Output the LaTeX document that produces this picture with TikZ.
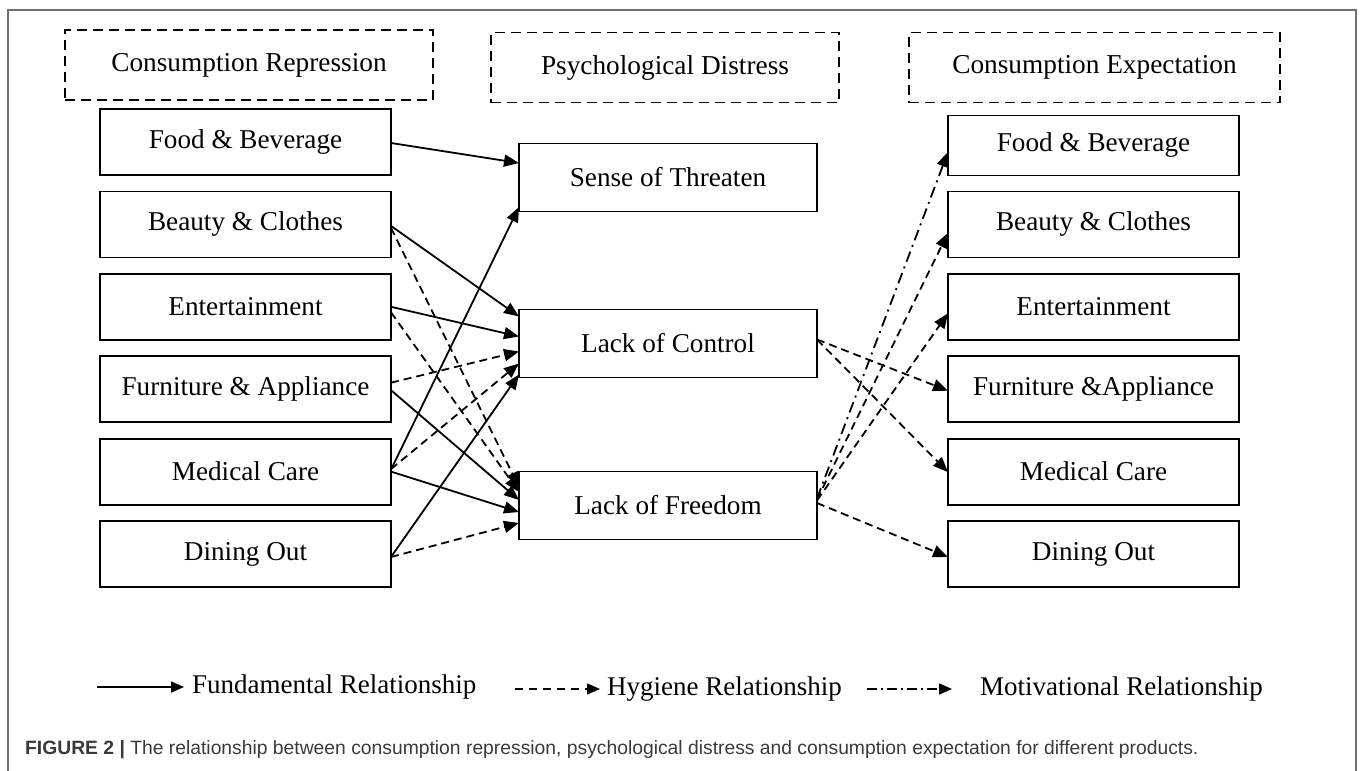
\documentclass[tikz,border=0pt]{standalone}
\usepackage{fontspec}
\setmainfont{Liberation Serif}
\newfontfamily\capfont{Liberation Sans}
\usetikzlibrary{positioning,arrows.meta}
\definecolor{capgray}{HTML}{3A3A3A}
\definecolor{framegray}{HTML}{707070}

\begin{document}
\begin{tikzpicture}[x=1pt, y=-1pt,
  box/.style={draw, line width=1.8pt, minimum width=291pt, minimum height=66pt, inner sep=0pt, outer sep=0pt, font=\fontsize{27.2}{31}\selectfont},
  midbox/.style={box, minimum width=298pt, minimum height=68pt},
  head/.style={draw, line width=1.8pt, dash pattern=on 10pt off 6pt, minimum height=70pt, inner sep=0pt, outer sep=0pt, font=\fontsize{27.3}{31}\selectfont},
  arr/.style={-{Triangle[length=15pt,width=12pt]}, line width=1.8pt},
  hyg/.style={arr, dash pattern=on 8pt off 5pt},
  mot/.style={arr, dash pattern=on 11pt off 5pt on 2pt off 5pt},
  legarr/.style={-{Triangle[length=13pt,width=11pt]}, line width=1.6pt},
  lab/.style={font=\fontsize{27}{31}\selectfont, inner sep=0pt, anchor=west}]
\useasboundingbox (0,0) rectangle (1360,771);
\draw[framegray, line width=1.5pt] (8,771) -- (8,10) -- (1356,10) -- (1356,771);

\node[head, minimum width=368pt] (hRep) at (249,65) {Consumption Repression};
\node[head, minimum width=348pt] (hDis) at (665,67.5) {Psychological Distress};
\node[head, minimum width=371pt] (hExp) at (1094.5,67.5) {Consumption Expectation};

\node[box] (lFood) at (245.5,142) {Food \& Beverage};
\node[box, below=16.4pt of lFood] (lBeauty) {Beauty \& Clothes};
\node[box, below=16.4pt of lBeauty] (lEnt) {Entertainment};
\node[box, below=16.4pt of lEnt] (lFurn) {Furniture \& Appliance};
\node[box, below=16.4pt of lFurn] (lMed) {Medical Care};
\node[box, below=16.4pt of lMed] (lDine) {Dining Out};

\node[midbox] (tSense) at (668,177.5) {Sense of Threaten};
\node[midbox, below=98pt of tSense] (tCtrl) {Lack of Control};
\node[midbox, below=94pt of tCtrl] (tFree) {Lack of Freedom};

\node[box, right=557pt of lBeauty] (rBeauty) {Beauty \& Clothes};
\node[box, above=16pt of rBeauty, minimum height=60pt] (rFood) {Food \& Beverage};
\node[box, right=557pt of lEnt] (rEnt) {Entertainment};
\node[box, right=557pt of lFurn] (rFurn) {Furniture \&Appliance};
\node[box, right=557pt of lMed] (rMed) {Medical Care};
\node[box, right=557pt of lDine] (rDine) {Dining Out};

\draw[arr] ([yshift=-1pt]lFood.east) -- ([yshift=14.5pt]tSense.west);
\draw[arr] ([yshift=-1.5pt]lBeauty.east) -- ([yshift=27pt]tCtrl.west);
\draw[arr] (lEnt.east) -- ([yshift=7pt]tCtrl.west);
\draw[arr] ([yshift=-1pt]lFurn.east) -- ([yshift=5.5pt]tFree.west);
\draw[arr] ([yshift=2pt]lMed.east) -- ([yshift=-29.5pt]tSense.west);
\draw[arr] (lMed.east) -- ([yshift=-6.5pt]tFree.west);
\draw[arr] ([yshift=-3pt]lDine.east) -- ([yshift=-31pt]tCtrl.west);
\draw[hyg] ([yshift=-3.5pt]lBeauty.east) -- ([yshift=18.5pt]tFree.west);
\draw[hyg] ([yshift=-5.5pt]lEnt.east) -- ([yshift=13.5pt]tFree.west);
\draw[hyg] ([yshift=6.5pt]lFurn.east) -- ([yshift=-8pt]tCtrl.west);
\draw[hyg] ([yshift=2.5pt]lMed.east) -- ([yshift=-20pt]tCtrl.west);
\draw[hyg] ([yshift=-3pt]lDine.east) -- ([yshift=-17.5pt]tFree.west);

\draw[hyg] ([yshift=4pt]tCtrl.east) -- ([yshift=-1.5pt]rFurn.west);
\draw[hyg] ([yshift=4pt]tCtrl.east) -- ([yshift=-0.5pt]rMed.west);
\draw[mot] ([yshift=7pt]tFree.east) -- ([yshift=-6.5pt]rFood.west);
\draw[hyg] ([yshift=6pt]tFree.east) -- ([yshift=-8.5pt]rBeauty.west);
\draw[hyg] ([yshift=5pt]tFree.east) -- ([yshift=-6.5pt]rEnt.west);
\draw[hyg] ([yshift=2.5pt]tFree.east) -- ([yshift=-3pt]rDine.west);

\coordinate (fundA) at (97,687);
\node[lab] (fundL) at (192,687) {Fundamental Relationship};
\draw[legarr] (fundA) -- ([xshift=-8pt]fundL.west);
\coordinate (hygA) at (515,689);
\node[lab] (hygL) at (607,689) {Hygiene Relationship};
\draw[legarr, dash pattern=on 8pt off 6pt] (hygA) -- ([xshift=-7pt]hygL.west);
\coordinate (motA) at (867,689);
\node[lab] (motL) at (980,689) {Motivational Relationship};
\draw[legarr, dash pattern=on 10pt off 4pt on 2pt off 4pt] (motA) -- ([xshift=-28pt]motL.west);

\node[anchor=base west, inner sep=0pt, text=capgray, font=\capfont\fontsize{19.3}{23}\selectfont] (cap) at (25,754) {\textbf{FIGURE 2 |} The relationship between consumption repression, psychological distress and consumption expectation for different products.};
\end{tikzpicture}
\end{document}
